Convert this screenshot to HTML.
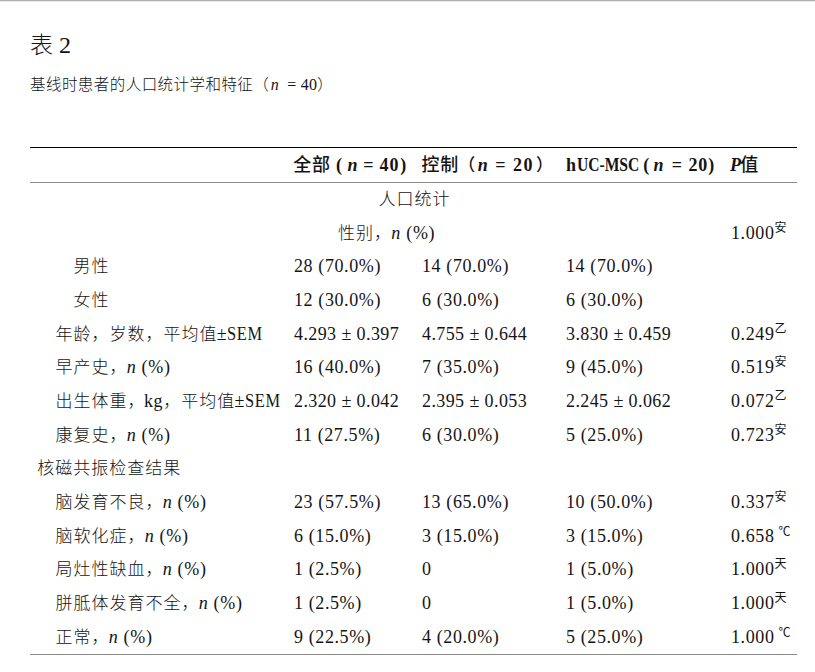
<!DOCTYPE html>
<html lang="zh-CN">
<head>
<meta charset="utf-8">
<title>表 2</title>
<style>
html,body{margin:0;padding:0;background:#fff;}
body{width:815px;height:672px;position:relative;overflow:hidden;
 font-family:"Liberation Serif","Noto Sans CJK SC",serif;color:#141414;}
.topbar{position:absolute;left:0;top:0;width:815px;height:2px;background:linear-gradient(to bottom,#b0b0b0 0,#b0b0b0 1px,#e8e8e8 1px,#e8e8e8 2px);}
h2{position:absolute;left:30px;top:30px;margin:0;font-weight:300;font-size:23px;line-height:30px;white-space:nowrap;}
h2 .l{font-size:24px;margin-left:6px;}
.cap{position:absolute;left:30px;top:74px;margin:0;font-size:15.5px;font-weight:300;line-height:22px;white-space:nowrap;letter-spacing:0.45px;}
.cap .l{margin-left:1.5px;font-size:16px;font-weight:400;letter-spacing:0.2px;}
.tbl{position:absolute;left:30px;top:147px;width:767px;height:509px;}
.ln{position:absolute;left:0;width:767px;height:1px;}
.r{position:absolute;left:0;width:767px;height:33.667px;line-height:33.667px;font-size:18px;white-space:nowrap;}
.r > span{position:absolute;top:0;}
i{font-style:italic;}
.zh{font-size:17px;font-weight:300;letter-spacing:1px;}
.zh .l{margin-left:-0.7px;font-size:18px;font-weight:400;letter-spacing:0.7px;}
.zh .sm{display:inline-block;transform:scaleX(0.91);transform-origin:0 50%;margin-right:-3.4px;margin-left:0;}
.zh .kg{margin-left:-1.5px;}
.pm{letter-spacing:0.4px;}
.n{letter-spacing:0.6px;}
.hd{font-weight:bold;}
.hd .z{font-size:18px;font-weight:500;letter-spacing:0.8px;}
.hx{display:inline-block;margin-left:1.3px;transform:scaleX(0.865);transform-origin:0 50%;margin-right:-10.3px;}
.c2{left:264px}
.c3{left:392px}
.c4{left:536px}
.c5{left:701px}
sup{font-size:12px;font-weight:400;vertical-align:baseline;position:relative;top:-7px;line-height:0;letter-spacing:0;}
sup.deg{margin-left:4px;top:-6px;}
</style>
</head>
<body>
<div class="topbar"></div>
<h2>表<span class="l">2</span></h2>
<p class="cap">基线时患者的人口统计学和特征（<span class="l"><i>n</i>&nbsp; = 40</span>）</p>
<div class="tbl">
<div class="ln" style="top:0;background:#000;"></div>
<div class="ln" style="top:35px;background:#8a8a8a;"></div>
<div class="ln" style="top:507px;background:#8a8a8a;"></div>
<div class="r hd" style="top:2px;">
<span style="left:263.3px"><span class="z">全部</span><span class="l" style="letter-spacing:0.5px"> ( </span><i style="margin-right:0.5px">n</i><span class="l" style="letter-spacing:0.8px"> = 40</span><span style="margin-left:1px">)</span></span>
<span style="left:391.5px"><span class="z">控制</span><span class="z" style="font-size:17px;margin-left:-0.8px">（</span><span style="margin-left:1.7px;letter-spacing:1.5px"><i>n</i> = 20</span><span class="z" style="font-size:17px;margin-left:2px">）</span></span>
<span style="left:536px;">h<span class="hx">UC-MSC</span><span style="letter-spacing:-0.2px"> ( <i>n</i>&nbsp; </span><span style="letter-spacing:0.9px">= 20)</span></span>
<span style="left:700px"><i>P</i><span class="z" style="margin-left:-0.7px">值</span></span>
</div>
<div class="r" style="top:35.67px;"><span class="zh" style="left:348.4px;">人口统计</span></div>
<div class="r" style="top:69.74px;"><span class="zh" style="left:308px;">性别，<span class="l"><i>n</i> (%)</span></span><span class="c5 n">1.000<sup>安</sup></span></div>
<div class="r" style="top:103.40px;"><span class="zh" style="left:43.5px;">男性</span><span class="c2 n">28 (70.0%)</span><span class="c3 n">14 (70.0%)</span><span class="c4 n">14 (70.0%)</span></div>
<div class="r" style="top:137.07px;"><span class="zh" style="left:43.5px;">女性</span><span class="c2 n">12 (30.0%)</span><span class="c3 n">6 (30.0%)</span><span class="c4 n">6 (30.0%)</span></div>
<div class="r" style="top:170.74px;"><span class="zh" style="left:25.4px;">年龄，岁数，平均值<span class="l">±</span><span class="l sm">SEM</span></span><span class="c2 pm">4.293 ± 0.397</span><span class="c3 pm">4.755 ± 0.644</span><span class="c4 pm">3.830 ± 0.459</span><span class="c5 n">0.249<sup>乙</sup></span></div>
<div class="r" style="top:204.41px;"><span class="zh" style="left:25.4px;">早产史，<span class="l"><i>n</i> (%)</span></span><span class="c2 n">16 (40.0%)</span><span class="c3 n">7 (35.0%)</span><span class="c4 n">9 (45.0%)</span><span class="c5 n">0.519<sup>安</sup></span></div>
<div class="r" style="top:238.07px;"><span class="zh" style="left:25.4px;">出生体重，<span class="l kg">kg</span>，平均值<span class="l">±</span><span class="l sm">SEM</span></span><span class="c2 pm">2.320 ± 0.042</span><span class="c3 pm">2.395 ± 0.053</span><span class="c4 pm">2.245 ± 0.062</span><span class="c5 n">0.072<sup>乙</sup></span></div>
<div class="r" style="top:271.74px;"><span class="zh" style="left:25.4px;">康复史，<span class="l"><i>n</i> (%)</span></span><span class="c2 n">11 (27.5%)</span><span class="c3 n">6 (30.0%)</span><span class="c4 n">5 (25.0%)</span><span class="c5 n">0.723<sup>安</sup></span></div>
<div class="r" style="top:305.41px;"><span class="zh" style="left:7.3px;">核磁共振检查结果</span></div>
<div class="r" style="top:339.07px;"><span class="zh" style="left:25.4px;">脑发育不良，<span class="l"><i>n</i> (%)</span></span><span class="c2 n">23 (57.5%)</span><span class="c3 n">13 (65.0%)</span><span class="c4 n">10 (50.0%)</span><span class="c5 n">0.337<sup>安</sup></span></div>
<div class="r" style="top:372.74px;"><span class="zh" style="left:25.4px;">脑软化症，<span class="l"><i>n</i> (%)</span></span><span class="c2 n">6 (15.0%)</span><span class="c3 n">3 (15.0%)</span><span class="c4 n">3 (15.0%)</span><span class="c5 n">0.658<sup class="deg">℃</sup></span></div>
<div class="r" style="top:406.41px;"><span class="zh" style="left:25.4px;">局灶性缺血，<span class="l"><i>n</i> (%)</span></span><span class="c2 n">1 (2.5%)</span><span class="c3 n">0</span><span class="c4 n">1 (5.0%)</span><span class="c5 n">1.000<sup>天</sup></span></div>
<div class="r" style="top:440.07px;"><span class="zh" style="left:25.4px;">胼胝体发育不全，<span class="l"><i>n</i> (%)</span></span><span class="c2 n">1 (2.5%)</span><span class="c3 n">0</span><span class="c4 n">1 (5.0%)</span><span class="c5 n">1.000<sup>天</sup></span></div>
<div class="r" style="top:473.74px;"><span class="zh" style="left:25.4px;">正常，<span class="l"><i>n</i> (%)</span></span><span class="c2 n">9 (22.5%)</span><span class="c3 n">4 (20.0%)</span><span class="c4 n">5 (25.0%)</span><span class="c5 n">1.000<sup class="deg">℃</sup></span></div>
</div>
</body>
</html>
